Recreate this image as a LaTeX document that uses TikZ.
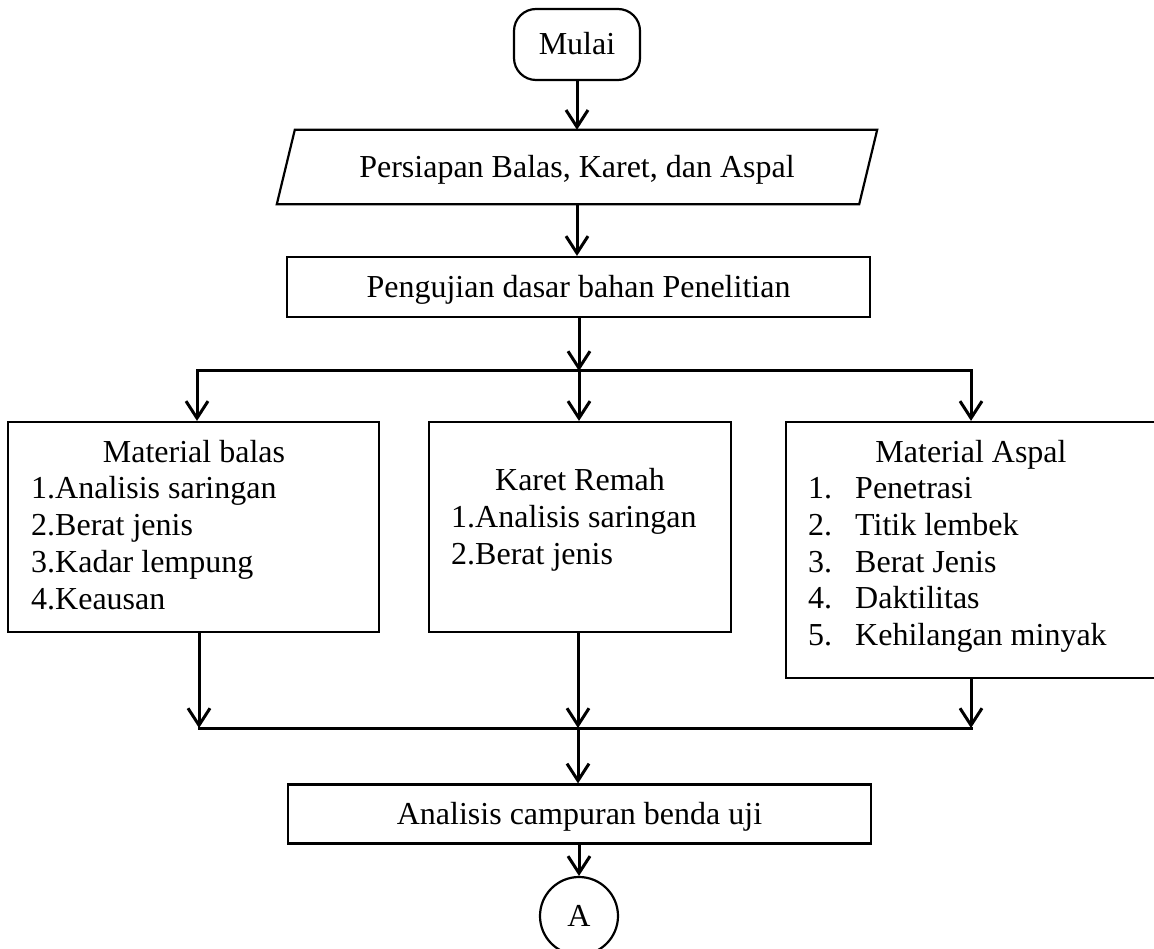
\documentclass[tikz,border=0pt]{standalone}
\usepackage{fontspec}
\setmainfont{Liberation Serif}
\usetikzlibrary{arrows.meta}
\begin{document}
\begin{tikzpicture}[x=1pt,y=-1pt,
  font=\fontsize{32}{37}\selectfont,
  boxline/.style={draw, line width=2.2pt, inner sep=0pt},
  oneline/.style={text height=21pt, text depth=0pt},
  conn/.style={line width=3pt, -{Straight Barb[length=17pt,width=22pt]}},
  bus/.style={line width=3pt, line cap=rect},
  lbl/.style={anchor=base, inner sep=0pt},
  item/.style={anchor=base west, inner sep=0pt}]
\useasboundingbox (0,0) rectangle (1154,949);

% start
\node[boxline, oneline, rounded corners=22pt, minimum width=126pt, minimum height=71pt] (start) at (577,44.5) {Mulai};

% parallelogram (text node + outline)
\node[oneline, inner sep=0pt, minimum width=582pt, minimum height=74pt] (prep) at (577,167) {Persiapan Balas, Karet, dan Aspal};
\draw[line width=2.2pt, line join=miter]
  ([xshift=9pt]prep.north west) -- ([xshift=9pt]prep.north east) --
  ([xshift=-9pt]prep.south east) -- ([xshift=-9pt]prep.south west) -- cycle;

% basic testing
\node[boxline, oneline, minimum width=583pt, minimum height=60pt] (uji) at (578.5,287) {Pengujian dasar bahan Penelitian};

% three boxes
\node[boxline, minimum width=371pt, minimum height=210pt] (bal) at (193.5,527) {};
\node[boxline, minimum width=302pt, minimum height=210pt] (rem) at (580,527) {};
\node[boxline, minimum width=374pt, minimum height=256pt] (asp) at (973,550) {};

% texts in the boxes
\node[lbl] (balT) at (194,462) {Material balas};
\node[item] (bal1) at (31,498) {1.Analisis saringan};
\node[item] (bal2) at (31,535) {2.Berat jenis};
\node[item] (bal3) at (31,572) {3.Kadar lempung};
\node[item] (bal4) at (31,609) {4.Keausan};

\node[lbl] (remT) at (580,490) {Karet Remah};
\node[item] (rem1) at (451,527) {1.Analisis saringan};
\node[item] (rem2) at (451,564) {2.Berat jenis};

\node[lbl] (aspT) at (971,462) {Material Aspal};
\node[item] (aspn1) at (808,498) {1.};
\node[item] (asp1) at (855,498) {Penetrasi};
\node[item] (aspn2) at (808,535) {2.};
\node[item] (asp2) at (855,535) {Titik lembek};
\node[item] (aspn3) at (808,572) {3.};
\node[item] (asp3) at (855,572) {Berat Jenis};
\node[item] (aspn4) at (808,608) {4.};
\node[item] (asp4) at (855,608) {Daktilitas};
\node[item] (aspn5) at (808,645) {5.};
\node[item] (asp5) at (855,645) {Kehilangan minyak};

% analysis
\node[boxline, oneline, minimum width=583pt, minimum height=59pt] (ana) at (579.5,814) {Analisis campuran benda uji};

% connector
\node[circle, draw, oneline, line width=2.2pt, minimum size=78pt, inner sep=0pt] (conA) at (579,916) {A};

% bus coordinates
\coordinate (btl) at (197,371);
\coordinate (btc) at (579,371);
\coordinate (btr) at (971,371);
\coordinate (bbl) at (199,728);
\coordinate (bbc) at (578,728);
\coordinate (bbr) at (971,728);

% connectors
\draw[conn] (start.south) -- (start.south |- prep.north);
\draw[conn] (start.south |- prep.south) -- (start.south |- uji.north);
\draw[conn] (btc |- uji.south) -- (btc);
\draw[bus] (btl) -- (btr);
\draw[conn] (btl) -- (btl |- bal.north);
\draw[conn] (btc) -- (btc |- rem.north);
\draw[conn] (btr) -- (btr |- asp.north);

\draw[conn] (bbl |- bal.south) -- (bbl);
\draw[conn] (bbc |- rem.south) -- (bbc);
\draw[conn] (bbr |- asp.south) -- (bbr);
\draw[bus] (bbl) -- (bbr);
\draw[conn] (bbc) -- (bbc |- ana.north);
\draw[conn] (conA.north |- ana.south) -- (conA.north);
\end{tikzpicture}
\end{document}
